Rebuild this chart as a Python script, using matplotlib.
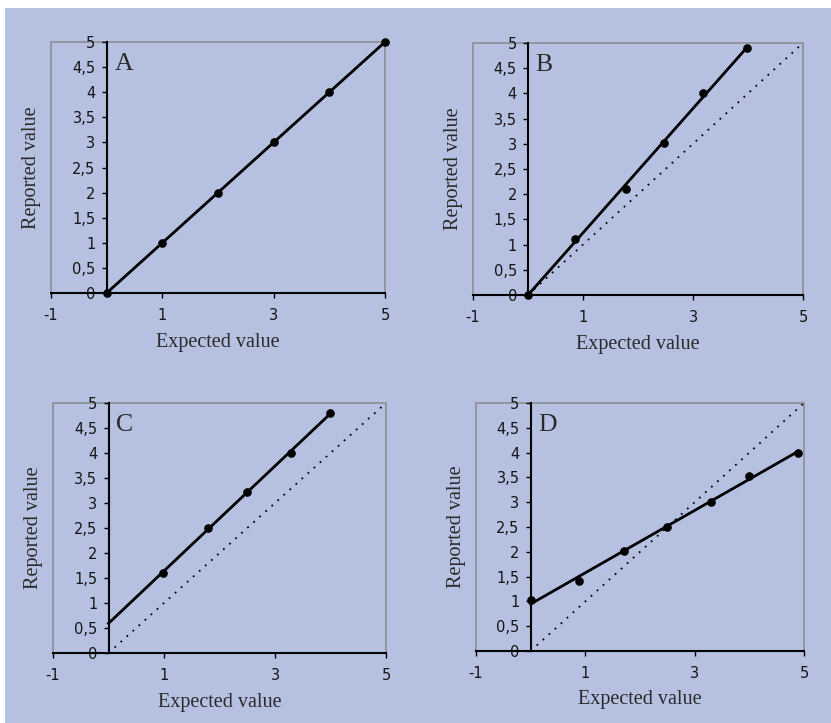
import matplotlib
matplotlib.use("Agg")
import matplotlib.pyplot as plt
from matplotlib.patches import Rectangle
import numpy as np

plt.rcParams["axes.unicode_minus"] = False

# values
panel_names = ["A", "B", "C", "D"]
a_x = [0, 1, 2, 3, 4, 5]
a_y = [0, 1, 2, 3, 4, 5]
b_x = [0, 0.86, 1.78, 2.47, 3.19, 3.98]
b_y = [0, 1.12, 2.11, 3.01, 4.01, 4.9]
c_x = [0.99, 1.79, 2.5, 3.29, 3.99]
c_y = [1.61, 2.51, 3.22, 4.0, 4.8]
d_x = [0, 0.89, 1.7, 2.5, 3.29, 3.99, 4.89]
d_y = [1.02, 1.42, 2.01, 2.51, 3.01, 3.52, 4.0]
ident = [0, 5]

x_ticks = [-1, 1, 3, 5]
y_ticks = [0, 0.5, 1, 1.5, 2, 2.5, 3, 3.5, 4, 4.5, 5]
y_ticklabels = ["0", "0,5", "1", "1,5", "2", "2,5", "3", "3,5", "4", "4,5", "5"]
xlabel = "Expected value"
ylabel = "Reported value"

bg = "#b6c0e0"
frame_gray = "#8a8a8a"
txt = "#2a2a2a"

W, H = 831, 723
fig = plt.figure(figsize=(W / 100, H / 100), dpi=100, facecolor="white")
fig.patches.append(Rectangle((5 / W, 0), 1, 1 - 8 / H, transform=fig.transFigure,
                             facecolor=bg, edgecolor="none", zorder=-10))

# axes boxes in pixels: left, top, right, bottom
boxes = [(51, 42, 385, 293), (473, 43, 803, 295), (53, 403, 386, 653), (476, 403, 804, 651)]
data = [(a_x, a_y), (b_x, b_y), (c_x, c_y), (d_x, d_y)]

for name, (l, t, r, b), (xs, ys) in zip(panel_names, boxes, data):
    ax = fig.add_axes([l / W, (H - b) / H, (r - l) / W, (b - t) / H])
    ax.set_facecolor("none")
    ax.set_xlim(-1, 5)
    ax.set_ylim(0, 5)

    # gray frame, black axes through zero
    ax.add_patch(Rectangle((0, 0), 1, 1, transform=ax.transAxes, fill=False,
                           edgecolor=frame_gray, lw=1.1, clip_on=False, zorder=0))
    for s in ["top", "right"]:
        ax.spines[s].set_visible(False)
    ax.spines["left"].set_position(("data", 0))
    ax.spines["left"].set_linewidth(1.5)
    ax.spines["bottom"].set_linewidth(1.5)

    ax.set_xticks(x_ticks)
    ax.set_yticks(y_ticks)
    ax.set_yticklabels(y_ticklabels)
    ax.tick_params(axis="x", direction="out", length=3.5, width=1, pad=7.5,
                   labelsize=10.5, labelcolor="#151515")
    ax.tick_params(axis="y", direction="out", length=3.5, width=1, pad=4.5,
                   labelsize=10.5, labelcolor="#151515")

    # identity (dotted) and fitted line
    ax.plot(ident, ident, color="black", lw=1.3, ls=(0, (1, 3.5)), zorder=2)
    k, c0 = np.polyfit(xs, ys, 1)
    fx = np.array([0, max(xs)])
    ax.plot(fx, k * fx + c0, color="black", lw=2, zorder=3)
    ax.plot(xs, ys, "o", color="black", ms=5.2, zorder=4, clip_on=False)

    ax.set_xlabel(xlabel, fontsize=14.5, family="Liberation Serif", color=txt)
    ax.set_ylabel(ylabel, fontsize=14.5, family="Liberation Serif", color=txt)
    ax.xaxis.set_label_coords(0.5, -0.158)
    ax.yaxis.set_label_coords(-0.03, 0.5)

    ax.text(0.19, 0.955, name, transform=ax.transAxes, fontsize=18.5,
            family="Liberation Serif", color=txt, va="top", ha="left")

fig.savefig("out.png", dpi=100, facecolor="white")
